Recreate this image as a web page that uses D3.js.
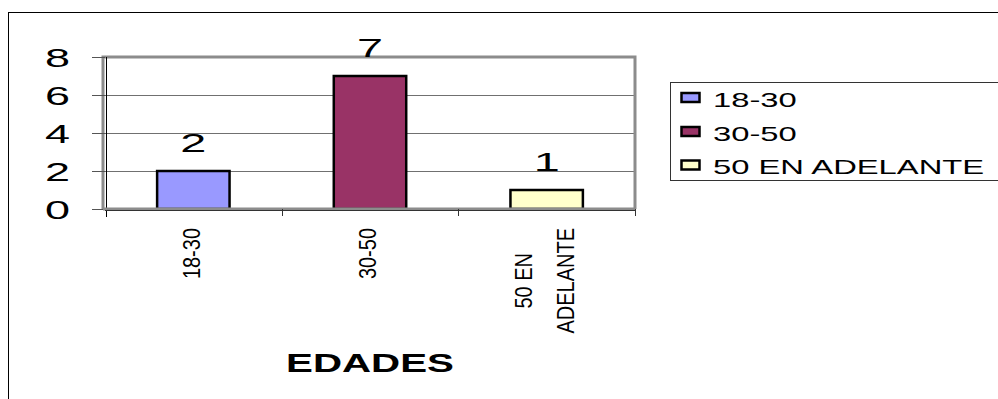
<!DOCTYPE html>
<html>
<head>
<meta charset="utf-8">
<script src="https://cdn.jsdelivr.net/npm/d3@7"></script>
<style>
  html, body { margin: 0; padding: 0; background: #fff; }
  svg { display: block; }
</style>
</head>
<body>
<svg id="chart" width="998" height="399"></svg>
<script>
// Age groups and counts
const categories = ["18-30", "30-50", "50 EN ADELANTE"];
const categoryLabels = [["18-30"], ["30-50"], ["50 EN", "ADELANTE"]];
const values = [2, 7, 1];
const colors = ["#9999ff", "#993366", "#ffffcc"];
const yTicks = [0, 2, 4, 6, 8];
const axisTitle = "EDADES";

const svg = d3.select("#chart");
const W = 998, H = 399;
const FONT = "'Liberation Sans', Arial, sans-serif";

// Outer chart frame
svg.append("rect")
  .attr("x", 8.5).attr("y", 12.5)
  .attr("width", W).attr("height", H)
  .attr("fill", "#fff").attr("stroke", "#000").attr("stroke-width", 1);

const plot = { left: 105, top: 57, right: 635, bottom: 209 };

const x = d3.scaleBand()
  .domain(categories)
  .range([plot.left, plot.right])
  .paddingInner(0.59).paddingOuter(0.295);
const xTickBand = d3.scaleBand().domain(categories).range([plot.left, plot.right]);

const y = d3.scaleLinear().domain([0, 8]).range([plot.bottom, plot.top]);

// Horizontal gridlines
svg.append("g")
  .selectAll("line")
  .data(yTicks.filter(t => t > 0 && t < 8))
  .join("line")
  .attr("x1", plot.left).attr("x2", plot.right)
  .attr("y1", d => Math.round(y(d)) + 0.5).attr("y2", d => Math.round(y(d)) + 0.5)
  .attr("stroke", "#707070").attr("stroke-width", 1);

// Plot area border (grey)
svg.append("path")
  .attr("d", `M${plot.left - 2},${plot.bottom} V${plot.top} H${plot.right} V${plot.bottom}`)
  .attr("fill", "none").attr("stroke", "#8c8c8c").attr("stroke-width", 3);

// Bars
svg.append("g")
  .selectAll("rect")
  .data(values)
  .join("rect")
  .attr("x", (d, i) => x(categories[i]))
  .attr("y", d => y(d))
  .attr("width", x.bandwidth())
  .attr("height", d => y(0) - y(d))
  .attr("fill", (d, i) => colors[i])
  .attr("stroke", "#000").attr("stroke-width", 2.5);

// Value labels
svg.append("g")
  .selectAll("text")
  .data(values)
  .join("text")
  .attr("transform", (d, i) => `translate(${x(categories[i]) + x.bandwidth() / 2},${y(d) - 19}) scale(1.8,1)`)
  .attr("text-anchor", "middle")
  .attr("font-family", FONT)
  .attr("font-size", 26)
  .attr("fill", "#000")
  .text(d => d);

// Y axis
const yAxis = d3.axisLeft(y).tickValues(yTicks).tickSize(13).tickPadding(10).tickFormat(d3.format("d"));
const gy = svg.append("g")
  .attr("transform", `translate(${plot.left},0)`)
  .call(yAxis);
gy.select(".domain").attr("stroke", "#000").attr("stroke-width", 1).attr("d", `M1.5,${plot.top}V${plot.bottom + 8}`);
gy.selectAll(".tick line").attr("stroke", "#555");
gy.selectAll(".tick text").remove();
gy.selectAll(".tick").append("text")
  .attr("transform", "translate(-35,9) scale(1.8,1)")
  .attr("text-anchor", "end")
  .attr("font-family", FONT)
  .attr("font-size", 25)
  .attr("fill", "#000")
  .text(d => d3.format("d")(d));

// X axis baseline and category ticks
svg.append("line")
  .attr("x1", plot.left - 2).attr("x2", plot.right)
  .attr("y1", plot.bottom).attr("y2", plot.bottom)
  .attr("stroke", "#8c8c8c").attr("stroke-width", 3);
svg.append("line")
  .attr("x1", plot.left).attr("x2", plot.right)
  .attr("y1", plot.bottom + 1.5).attr("y2", plot.bottom + 1.5)
  .attr("stroke", "#333").attr("stroke-width", 1);
const tickXs = categories.map(c => xTickBand(c)).concat([plot.right]);
svg.append("g")
  .selectAll("line")
  .data(tickXs.slice(1))
  .join("line")
  .attr("x1", d => Math.round(d) + 0.5).attr("x2", d => Math.round(d) + 0.5)
  .attr("y1", plot.bottom).attr("y2", plot.bottom + 7)
  .attr("stroke", "#333").attr("stroke-width", 1);

// Rotated category labels
const catG = svg.append("g");
categoryLabels.forEach((lines, i) => {
  const cx = xTickBand(categories[i]) + xTickBand.bandwidth() / 2 - 2;
  const t = catG.append("text")
    .attr("transform", `translate(${cx},228) scale(1.2,1) rotate(-90)`)
    .attr("font-family", FONT)
    .attr("font-size", 20)
    .attr("fill", "#000");
  const lineH = 35;
  const n = lines.length;
  lines.forEach((l, k) => {
    t.append("tspan")
      .attr("x", 0)
      .attr("y", (k - (n - 1) / 2) * lineH + 7)
      .attr("text-anchor", "end")
      .text(l);
  });
});
// centre the lines of a multi-line label on each other
catG.selectAll("text").each(function () {
  const spans = d3.select(this).selectAll("tspan").nodes();
  if (spans.length < 2) return;
  const widths = spans.map(s => s.getComputedTextLength());
  const maxW = d3.max(widths);
  spans.forEach((s, k) => {
    d3.select(s).attr("x", -(maxW - widths[k]) / 2);
  });
});

// Axis title
svg.append("text")
  .attr("transform", "translate(370,372) scale(1.55,1)")
  .attr("text-anchor", "middle")
  .attr("font-family", FONT)
  .attr("font-weight", "bold")
  .attr("font-size", 26)
  .attr("fill", "#000")
  .text(axisTitle);

// Legend
const legend = svg.append("g");
legend.append("rect")
  .attr("x", 670.5).attr("y", 82.5)
  .attr("width", 340).attr("height", 98)
  .attr("fill", "#fff").attr("stroke", "#333").attr("stroke-width", 1);
const legendYs = [97.5, 131.5, 165];
categories.forEach((c, i) => {
  legend.append("rect")
    .attr("x", 681.5).attr("y", legendYs[i] - 4.5)
    .attr("width", 18).attr("height", 9)
    .attr("fill", colors[i])
    .attr("stroke", "#000").attr("stroke-width", 2.5);
  legend.append("text")
    .attr("transform", `translate(713,${legendYs[i] + 9}) scale(1.56,1)`)
    .attr("font-family", FONT)
    .attr("font-size", 21)
    .attr("fill", "#000")
    .text(c);
});
</script>
</body>
</html>
